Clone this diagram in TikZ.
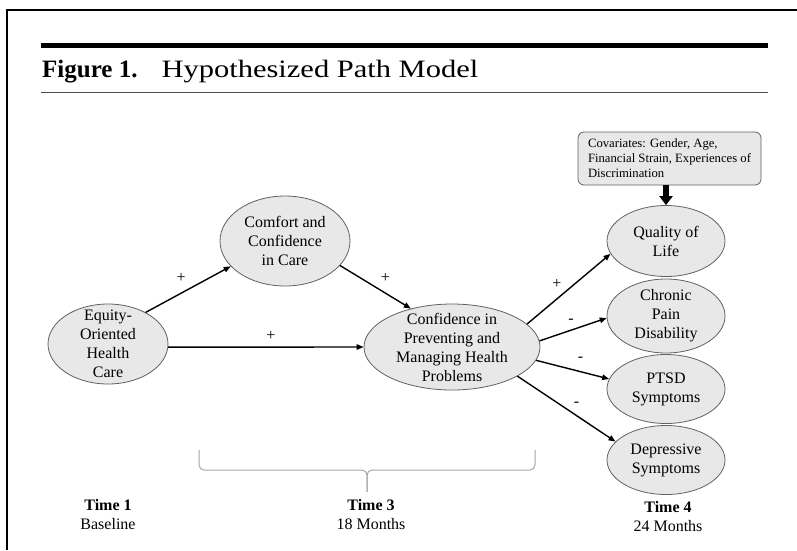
\documentclass[tikz,border=0pt]{standalone}
\usepackage{fontspec}
\setmainfont{Liberation Serif}
\newfontfamily\titlefont[FakeStretch=1.22]{Liberation Serif}
\usepackage{tikz}
\usetikzlibrary{arrows.meta}
\usetikzlibrary{shapes.geometric}
\colorlet{varfill}{black!9}
\colorlet{vardraw}{black!62}
\colorlet{bracecolor}{black!35}
\tikzstyle{var}=[ellipse,draw=vardraw,fill=varfill,line width=.8pt,inner sep=0pt]
\tikzstyle{vartext}=[align=center,font=\fontsize{16}{19}\selectfont,inner sep=0pt]
\tikzstyle{effecthead}=[>/.tip={Triangle[length=7pt,width=5.5pt]}]
\tikzstyle{effect}=[line width=1.4pt,effecthead,->]
\tikzstyle{sign}=[font=\fontsize{16}{16}\selectfont,inner sep=1pt]
\tikzstyle{covbox}=[rectangle,rounded corners=6pt,draw=vardraw,fill=varfill,line width=.8pt,minimum width=183pt,minimum height=53pt,align=left,font=\fontsize{12.7}{15}\selectfont]
\tikzstyle{covarrow}=[line width=6pt,-{Triangle[length=9pt,width=13pt]}]
\tikzstyle{timetext}=[align=center,font=\fontsize{16}{19}\selectfont]
\tikzstyle{brace}=[draw=bracecolor,line width=1pt,rounded corners=5pt]
\begin{document}
\begin{tikzpicture}[x=1pt,y=-1pt]
	\useasboundingbox (0,0) rectangle (797,550);
	\draw[line width=2pt] (7,550) -- (7,10) -- (797,10);
	\draw[line width=5pt] (41,45.5) -- (768,45.5);
	\draw[line width=1.7pt,black!70] (41,92.5) -- (768,92.5);
	\node[anchor=base west,inner sep=0pt,font=\fontsize{25}{30}\selectfont] (title) at (42,77) {\textbf{Figure 1.}\hspace{24pt}{\titlefont Hypothesized Path Model}};
	\node[var,minimum width=120pt,minimum height=80pt,label={[vartext]center:{Equity-\\Oriented\\Health\\Care}}] (eq) at (108,344) {};
	\node[var,minimum width=130pt,minimum height=90pt,label={[vartext]center:{Comfort and\\Confidence\\in Care}}] (comfort) at (285,241) {};
	\node[var,minimum width=176pt,minimum height=86pt,label={[vartext]center:{Confidence in\\Preventing and\\Managing Health\\Problems}}] (conf) at (452,347) {};
	\node[var,minimum width=118pt,minimum height=71pt,label={[vartext]center:{Quality of\\Life}}] (qol) at (666,241) {};
	\node[var,minimum width=118pt,minimum height=74pt,label={[vartext]center:{Chronic\\Pain\\Disability}}] (chronic) at (666,316) {};
	\node[var,minimum width=118pt,minimum height=69pt,label={[vartext]center:{PTSD\\Symptoms}}] (ptsd) at (666,389) {};
	\node[var,minimum width=118pt,minimum height=69pt,label={[vartext]center:{Depressive\\Symptoms}}] (dep) at (666,460) {};
	\node[covbox] (cov) at (669.5,158.5) {Covariates: Gender, Age,\\Financial Strain, Experiences of\\Discrimination};
	\draw[covarrow] (qol.north |- cov.south) -- (qol.north);
	\draw[effect] (eq.40) -- node[sign,xshift=-7pt,yshift=11pt] {+} (comfort.205);
	\draw[effect] (comfort.-24) -- node[sign,xshift=10pt,yshift=9pt] {+} (conf.137);
	\draw[effect] (eq.-3) -- node[sign,xshift=5pt,yshift=11pt] {+} (conf.180);
	\draw[effect] (conf.17) -- node[sign,xshift=-12pt,yshift=5pt] {+} (qol.193);
	\draw[effect] (conf.4) -- node[sign,xshift=-2pt,yshift=8pt] {-} (chronic.182);
	\draw[effect] (conf.-9) -- node[sign,xshift=8pt,yshift=10pt] {-} (ptsd.170);
	\draw[effect] (conf.-24) -- node[sign,xshift=10pt,yshift=5pt] {-} (dep.160);
	\coordinate (b1) at (199,450);
	\coordinate (b2) at (535,450);
	\coordinate (bmid) at (367,470);
	\coordinate (btip) at (367,492);
	\draw[brace] (b1) |- (bmid) -- (btip);
	\draw[brace] (b2) |- (bmid) -- (btip);
	\node[timetext] (t1) at (108,515) {\textbf{Time 1}\\Baseline};
	\node[timetext] (t3) at (371,515) {\textbf{Time 3}\\18 Months};
	\node[timetext] (t4) at (668,517) {\textbf{Time 4}\\24 Months};
\end{tikzpicture}
\end{document}
